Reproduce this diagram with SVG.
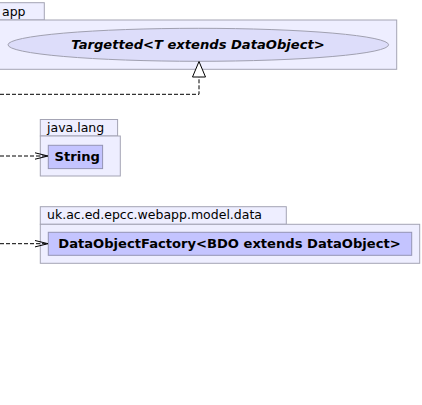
<svg xmlns="http://www.w3.org/2000/svg" width="422" height="405" viewBox="0 0 422 405">
<style>
.pkg{fill:#EEEEFF;stroke:#A4A4B4;stroke-width:1}
.cls{fill:#C4C4FF;stroke:#9494B4;stroke-width:1}
.ell{fill:#DDDDFA;stroke:#A0A0B0;stroke-width:1}
.plabel{font-family:"DejaVu Sans",sans-serif;font-size:12.5px;fill:#000}
.clabel{font-family:"DejaVu Sans",sans-serif;font-size:13.1px;font-weight:bold;fill:#000}
.edge{fill:none;stroke:#000;stroke-width:1;stroke-dasharray:4,2}
.head{fill:none;stroke:#000;stroke-width:1}
</style>
<rect width="422" height="405" fill="#FFFFFF"/>
<g id="pkg-app">
<rect class="pkg" x="-5" y="2.7" width="49.3" height="17.3"/>
<rect class="pkg" x="-5" y="20" width="401.7" height="49.3"/>
<text class="plabel" x="2" y="15.5">app</text>
</g>
<g id="node-targetted">
<ellipse class="ell" cx="198.3" cy="44.8" rx="190.3" ry="16.5"/>
<text class="clabel" x="198" y="49" text-anchor="middle" font-style="italic">Targetted&lt;T extends DataObject&gt;</text>
</g>
<g id="pkg-java-lang">
<rect class="pkg" x="40.3" y="119.5" width="77.3" height="16.5"/>
<rect class="pkg" x="40.3" y="136" width="80" height="40"/>
<text class="plabel" x="47" y="131.5">java.lang</text>
</g>
<g id="node-string">
<rect class="cls" x="48.3" y="145.3" width="54.3" height="23.3"/>
<text class="clabel" x="54.5" y="161.3">String</text>
</g>
<g id="pkg-model-data">
<rect class="pkg" x="40.3" y="206.7" width="246" height="17.6"/>
<rect class="pkg" x="40.3" y="224.3" width="379.4" height="39"/>
<text class="plabel" x="47" y="219">uk.ac.ed.epcc.webapp.model.data</text>
</g>
<g id="node-factory">
<rect class="cls" x="48.3" y="232.3" width="363.4" height="23"/>
<text class="clabel" x="58.3" y="248.3">DataObjectFactory&lt;BDO extends DataObject&gt;</text>
</g>
<g id="connectors">
<path class="edge" d="M0,94.3 H199 V77"/>
<polygon points="199,61.5 192.5,77 205.5,77" fill="#FFFFFF" stroke="#000" stroke-width="1"/>
<path class="edge" d="M0,156 H47.5"/>
<path class="head" d="M35,152.8 L48,156 L35,159.2"/>
<path class="edge" d="M0,243.7 H47.5"/>
<path class="head" d="M35,240.5 L48,243.7 L35,246.9"/>
</g>
</svg>
